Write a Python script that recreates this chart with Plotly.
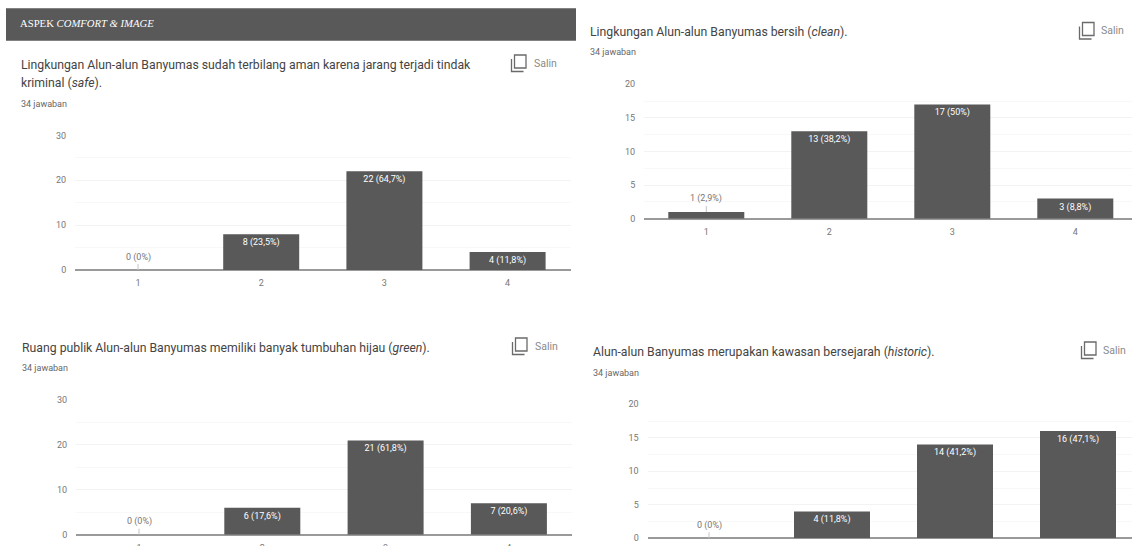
import plotly.graph_objects as go

W, H = 1132, 546

# Data
categories = [1, 2, 3, 4]
safe_values = [0, 8, 22, 4]
clean_values = [1, 13, 17, 3]
green_values = [0, 6, 21, 7]
historic_values = [0, 4, 14, 16]
safe_labels = ["0 (0%)", "8 (23,5%)", "22 (64,7%)", "4 (11,8%)"]
clean_labels = ["1 (2,9%)", "13 (38,2%)", "17 (50%)", "3 (8,8%)"]
green_labels = ["0 (0%)", "6 (17,6%)", "21 (61,8%)", "7 (20,6%)"]
historic_labels = ["0 (0%)", "4 (11,8%)", "14 (41,2%)", "16 (47,1%)"]
header_text = "ASPEK <i>COMFORT &amp; IMAGE</i>"
safe_title = ["Lingkungan Alun-alun Banyumas sudah terbilang aman karena jarang terjadi tindak",
              "kriminal (<i>safe</i>)."]
clean_title = ["Lingkungan Alun-alun Banyumas bersih (<i>clean</i>)."]
green_title = ["Ruang publik Alun-alun Banyumas memiliki banyak tumbuhan hijau (<i>green</i>)."]
historic_title = ["Alun-alun Banyumas merupakan kawasan bersejarah (<i>historic</i>)."]
answers_text = "34 jawaban"
copy_text = "Salin"

BAR = "#595959"
GRID = "#f3f3f3"
MINOR = "#f8f8f8"
TITLE_FONT = "Roboto, Arial, sans-serif"


def px(x):
    return x / W


def py(y):
    return 1 - y / H


panels = [
    dict(vals=safe_values, labels=safe_labels, title=safe_title, ymax=30, dtick=10,
         left=75, right=571, t1=138, dx=123.2, base=270, top=135.5,
         title_x=21, title_y=[65, 83], ans_y=104, icon_x=511.5, icon_y=55, salin_x=534, salin_y=63),
    dict(vals=clean_values, labels=clean_labels, title=clean_title, ymax=20, dtick=5,
         left=644, right=1132, t1=706.3, dx=123, base=218.7, top=84.3,
         title_x=590, title_y=[32], ans_y=52.5, icon_x=1079.5, icon_y=22.5, salin_x=1101, salin_y=30),
    dict(vals=green_values, labels=green_labels, title=green_title, ymax=30, dtick=10,
         left=76, right=572, t1=139, dx=123.3, base=534.7, top=400,
         title_x=22, title_y=[348], ans_y=368, icon_x=512.5, icon_y=338, salin_x=535, salin_y=346),
    dict(vals=historic_values, labels=historic_labels, title=historic_title, ymax=20, dtick=5,
         left=647.5, right=1132, t1=709, dx=123, base=538.3, top=404.3,
         title_x=593, title_y=[352], ans_y=373, icon_x=1081.5, icon_y=342, salin_x=1103, salin_y=350),
]

fig = go.Figure()
shapes = [dict(type="rect", xref="paper", yref="paper", x0=px(6), x1=px(576), y0=py(40.7), y1=py(8.3),
               fillcolor=BAR, line=dict(width=0), layer="below")]
annotations = [dict(xref="paper", yref="paper", x=px(18), y=py(23.5), xanchor="left", yanchor="middle",
                    text=header_text, showarrow=False,
                    font=dict(family="Liberation Serif, serif", size=10.7, color="#ffffff"))]


def paper_text(x, y, text, size, color):
    # annotations carry about 2px of inner padding on the left
    return dict(xref="paper", yref="paper", x=px(x - 2), y=py(y), xanchor="left", yanchor="middle",
                text=text, showarrow=False, font=dict(family=TITLE_FONT, size=size, color=color))


for i, p in enumerate(panels):
    s = "" if i == 0 else str(i + 1)
    x0 = 1 + (p["left"] - p["t1"]) / p["dx"]
    x1 = 1 + (p["right"] - p["t1"]) / p["dx"]
    fig.add_trace(go.Bar(
        x=categories, y=p["vals"], xaxis="x" + s, yaxis="y" + s, width=76 / p["dx"],
        marker=dict(color=BAR, line=dict(width=0)),
        text=[lab if v > 2 else "" for lab, v in zip(p["labels"], p["vals"])],
        textposition="inside", insidetextanchor="end", textangle=0, constraintext="none",
        insidetextfont=dict(family=TITLE_FONT, size=9, color="#ffffff"),
        hoverinfo="skip", showlegend=False,
    ))
    fig.update_layout({
        "xaxis" + s: dict(domain=[px(p["left"]), px(p["right"])], range=[x0, x1], anchor="y" + s,
                          tickmode="array", tickvals=categories, ticktext=[str(c) for c in categories],
                          showgrid=False, zeroline=False, ticks="outside", ticklen=4,
                          tickcolor="rgba(0,0,0,0)", showline=False,
                          tickfont=dict(family=TITLE_FONT, size=9, color="#777777")),
        "yaxis" + s: dict(domain=[py(p["base"]), py(p["top"])], range=[0, p["ymax"]], anchor="x" + s,
                          dtick=p["dtick"], tick0=0, showgrid=True, gridcolor=GRID, gridwidth=1,
                          minor=dict(dtick=p["dtick"] / 2, showgrid=True, gridcolor=MINOR, gridwidth=1),
                          zeroline=True, zerolinecolor="#9a9a9a", zerolinewidth=1.5,
                          ticks="outside", ticklen=6, tickcolor="rgba(0,0,0,0)", showline=False,
                          tickfont=dict(family=TITLE_FONT, size=9, color="#777777")),
    })
    for c, v, lab in zip(categories, p["vals"], p["labels"]):
        if v <= 2:
            annotations.append(dict(xref="x" + s, yref="y" + s, x=c, y=v, text=lab, showarrow=True,
                                    arrowhead=0, arrowwidth=1, arrowcolor="#c4c4c4", ax=0, ay=-13,
                                    standoff=0, font=dict(family=TITLE_FONT, size=9, color="#777777")))
    for line, ty in zip(p["title"], p["title_y"]):
        annotations.append(paper_text(p["title_x"], ty, line, 12.25, "#444444"))
    annotations.append(paper_text(p["title_x"], p["ans_y"], answers_text, 9, "#666666"))
    annotations.append(paper_text(p["salin_x"], p["salin_y"], copy_text, 10.5, "#8a8a8a"))
    ix, iy = p["icon_x"], p["icon_y"]
    shapes.append(dict(type="rect", xref="paper", yref="paper", x0=px(ix + 3), x1=px(ix + 14.5),
                       y0=py(iy + 13), y1=py(iy), line=dict(color="#6a6a6a", width=1.3)))
    shapes.append(dict(type="path", xref="paper", yref="paper",
                       path=f"M {px(ix)} {py(iy + 4)} L {px(ix)} {py(iy + 16.5)} L {px(ix + 12)} {py(iy + 16.5)}",
                       line=dict(color="#6a6a6a", width=1.3)))

fig.update_layout(
    width=W, height=H, margin=dict(l=0, r=0, t=0, b=0, autoexpand=False),
    paper_bgcolor="#ffffff", plot_bgcolor="#ffffff",
    showlegend=False, bargap=0.38,
    shapes=shapes, annotations=annotations,
    font=dict(family=TITLE_FONT),
)

fig.write_html("out.html", post_script="document.body.style.margin='0';document.body.style.overflow='hidden';",
               config=dict(displayModeBar=False))
